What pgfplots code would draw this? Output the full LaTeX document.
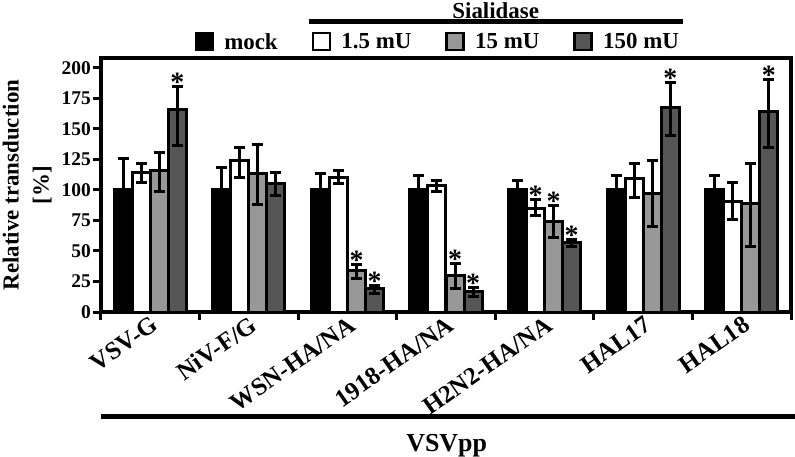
\documentclass[border=0pt]{standalone}
\usepackage{fontspec}
\setmainfont{Liberation Serif}
\usepackage{pgfplots}
\pgfplotsset{compat=1.18}
\definecolor{ltgray}{RGB}{152,152,152}
\definecolor{dkgray}{RGB}{86,86,86}
\newcommand{\lbl}{\bfseries\fontsize{23}{30}\selectfont}
\newcommand{\tck}{\bfseries\fontsize{19.5}{22}\selectfont}
\pgfplotsset{
  mybar/.style={ybar, bar width=0.183, bar shift=0,
    legend image code/.code={\draw[##1, line width=2.5bp] (0bp,-8bp) rectangle (17bp,9bp); \path (25bp,0bp);},
    error bars/y dir=both, error bars/y explicit,
    error bars/error bar style={line width=3bp, black},
    error bars/error mark options={rotate=90, mark size=5.5bp, line width=3bp, black}},
}
\begin{document}
\begin{tikzpicture}
\begin{axis}[
  scale only axis, width=690bp, height=254bp,
  xmin=-0.5, xmax=6.5, ymin=0, ymax=208,
  clip=false,
  axis line style={line width=3.5bp},
  tick pos=left, tick align=outside,
  ytick={0,25,...,200},
  xtick={0,...,6},
  xticklabels={VSV-G,NiV-F/G,WSN-HA/NA,1918-HA/NA,H2N2-HA/NA,HAL17,HAL18},
  minor xtick={-0.5,0.5,...,6.5},
  major x tick style={draw=none},
  minor x tick style={line width=3bp, black},
  ytick style={line width=3bp, black},
  major tick length=8bp, minor tick length=8bp,
  yticklabel style={font=\tck, inner xsep=2bp, /pgf/number format/assume math mode=true},
  xticklabel style={font=\bfseries\fontsize{25}{30}\selectfont, inner sep=0pt, xshift=5bp, yshift=-2bp, rotate=35, anchor=east},
  ylabel={Relative transduction\\{[\%]}},
  ylabel style={font=\lbl, align=center, at={(axis description cs:-0.107,0.5)}, anchor=center},
  legend columns=4,
  legend style={draw=none, fill=none, font=\lbl, at={(0.488,1.012)}, anchor=south,
    /tikz/every even column/.append style={column sep=32bp}},
]
\addplot[mybar, fill=black, draw=black, line width=3bp] coordinates {
  (-0.275,100) += (0,26) -= (0,26)
  (0.725,100) += (0,18.6) -= (0,18.6)
  (1.725,100) += (0,13.7) -= (0,13.7)
  (2.725,100) += (0,12) -= (0,12)
  (3.725,100) += (0,8) -= (0,8)
  (4.725,100) += (0,12) -= (0,12)
  (5.725,100) += (0,12) -= (0,12)
};
\addplot[mybar, fill=white, draw=black, line width=3bp] coordinates {
  (-0.092,114) += (0,8) -= (0,8)
  (0.908,124) += (0,11) -= (0,14)
  (1.908,110) += (0,6) -= (0,5)
  (2.908,103.5) += (0,4) -= (0,5)
  (3.908,85) += (0,7) -= (0,6)
  (4.908,109.5) += (0,12.5) -= (0,15.5)
  (5.908,90.5) += (0,15.5) -= (0,14.5)
};
\addplot[mybar, fill=ltgray, draw=black, line width=3bp] coordinates {
  (0.092,116) += (0,15) -= (0,17)
  (1.092,113.5) += (0,23.5) -= (0,25.5)
  (2.092,34) += (0,5) -= (0,6.5)
  (3.092,30) += (0,9.7) -= (0,10.8)
  (4.092,74.5) += (0,12.4) -= (0,13.5)
  (5.092,97.3) += (0,26.7) -= (0,27)
  (6.092,89) += (0,33) -= (0,35)
};
\addplot[mybar, fill=dkgray, draw=black, line width=3bp] coordinates {
  (0.275,165.5) += (0,19) -= (0,29)
  (1.275,105.5) += (0,9) -= (0,10.5)
  (2.275,19) += (0,2.4) -= (0,4)
  (3.275,17) += (0,2.7) -= (0,4.7)
  (4.275,57) += (0,2.7) -= (0,3.6)
  (5.275,167.6) += (0,20) -= (0,23)
  (6.275,163.8) += (0,27) -= (0,29)
};
% significance marks above the error bars
\addplot[draw=none, mark=none, nodes near coords={*},
  every node near coord/.append style={font=\bfseries\fontsize{28}{30}\selectfont, anchor=base, inner sep=0pt, yshift=-5bp}]
  coordinates {
  (0.275,184.5) (2.092,39) (2.275,21.4) (3.092,39.7) (3.275,19.7)
  (3.908,92) (4.092,86.9) (4.275,59.7) (5.275,187.6) (6.275,190.8)
};
\legend{mock, 1.5 mU, 15 mU, 150 mU}
\draw[line width=5bp] (rel axis cs:0.301,1.142) -- (rel axis cs:0.843,1.142);
\node[font=\lbl, anchor=base] at (rel axis cs:0.572,1.157) {Sialidase};
\draw[line width=5bp] (rel axis cs:0,-0.412) -- (rel axis cs:1.006,-0.412);
\node[font=\bfseries\fontsize{26}{30}\selectfont, anchor=base] at (rel axis cs:0.501,-0.551) {VSVpp};
\end{axis}
\pgfresetboundingbox
\path[use as bounding box] (-101bp,-145bp) rectangle (694bp,312bp);
\end{tikzpicture}
\end{document}
